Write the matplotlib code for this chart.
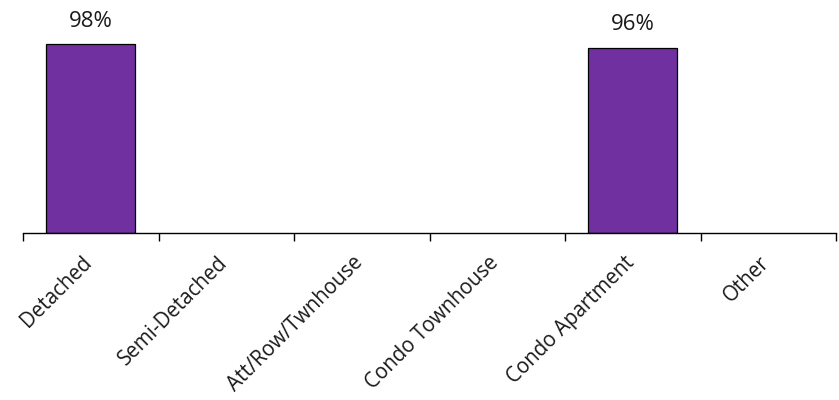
import matplotlib
matplotlib.use("Agg")
import matplotlib.pyplot as plt
import matplotlib.transforms as mtransforms
import numpy as np

categories = ["Detached", "Semi-Detached", "Att/Row/Twnhouse", "Condo Townhouse", "Condo Apartment", "Other"]
values = [0.98, 0, 0, 0, 0.96, 0]
labels = ["98%", "", "", "", "96%", ""]

plt.rcParams['font.family'] = ['Open Sans', 'DejaVu Sans']

fig = plt.figure(figsize=(8.39, 4.0), dpi=100)
ax = fig.add_axes([23/839, (400-233)/400, (836-23)/839, (233-1.5)/400])

x = np.arange(len(categories))
vals = [v if v > 0 else np.nan for v in values]
ax.bar(x, vals, width=0.66, color="#7030A0", edgecolor="black", linewidth=0.9)
for xi, v, lab in zip(x, values, labels):
    if lab:
        ax.annotate(lab, (xi, v), xytext=(0, 12.5), textcoords="offset points",
                    ha="center", va="baseline", fontsize=16, color="#1a1a1a")

ax.set_xlim(-0.5, len(categories) - 0.5)
ax.set_ylim(0, 1.2)
for s in ["top", "right", "left"]:
    ax.spines[s].set_visible(False)
ax.spines["bottom"].set_linewidth(1.0)
ax.set_yticks([])
ax.set_xticks(np.arange(len(categories) + 1) - 0.5)
ax.set_xticklabels([])
ax.tick_params(axis="x", length=6, width=1.0, direction="out")
ax.set_xticks(x, minor=True)
ax.set_xticklabels(categories, minor=True, rotation=45, ha="right", va="top",
                   rotation_mode="anchor", fontsize=14.8, color="#1a1a1a")
ax.tick_params(axis="x", which="minor", length=0, pad=14)
offset = mtransforms.ScaledTranslation(-9/100, 0, fig.dpi_scale_trans)
for lbl in ax.get_xticklabels(minor=True):
    lbl.set_transform(lbl.get_transform() + offset)

fig.savefig("out.png", dpi=100)
